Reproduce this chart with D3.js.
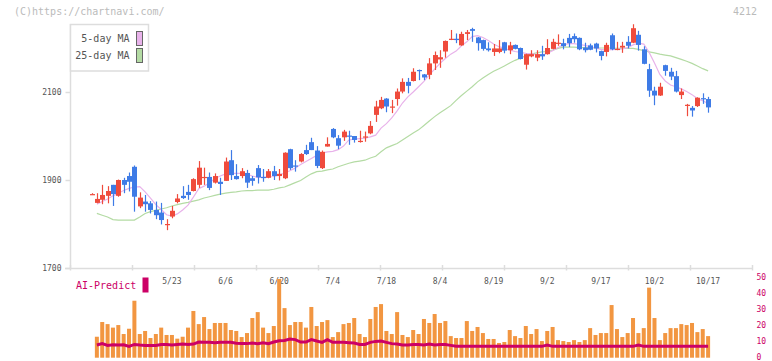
<!DOCTYPE html>
<html>
<head>
<meta charset="utf-8">
<script src="https://cdn.jsdelivr.net/npm/d3@7"></script>
<style>
html,body{margin:0;padding:0;background:#fff;}
svg{display:block;}
text{font-family:"DejaVu Sans Mono","Liberation Mono",monospace;}
</style>
</head>
<body>
<svg id="chart" width="772" height="361"></svg>
<script>
// ---- data ----
const dates = ["4/30","5/1","5/2","5/7","5/8","5/9","5/12","5/13","5/14","5/15","5/16","5/19","5/20","5/21","5/22","5/23","5/26","5/27","5/28","5/29","5/30",
"6/2","6/3","6/4","6/5","6/6","6/9","6/10","6/11","6/12","6/13","6/16","6/17","6/18","6/19","6/20","6/23","6/24","6/25","6/26","6/27","6/30",
"7/1","7/2","7/3","7/4","7/7","7/8","7/9","7/10","7/11","7/14","7/15","7/16","7/17","7/18","7/22","7/23","7/24","7/25","7/28","7/29","7/30","7/31",
"8/1","8/4","8/5","8/6","8/7","8/8","8/12","8/13","8/14","8/15","8/18","8/19","8/20","8/21","8/22","8/25","8/26","8/27","8/28","8/29",
"9/1","9/2","9/3","9/4","9/5","9/8","9/9","9/10","9/11","9/12","9/16","9/17","9/18","9/19","9/22","9/24","9/25","9/26","9/29","9/30",
"10/1","10/2","10/3","10/6","10/7","10/8","10/9","10/10","10/14","10/15","10/16","10/17"];

const open  = [1868,1848,1855,1864,1889,1864,1900,1909,1930,1840,1851,1847,1832,1826,1798,1817,1850,1864,1873,1875,1889,1906,1907,1894,1896,1898,1945,1909,1909,1916,1904,1927,1907,1905,1920,1909,1904,1970,1933,1942,1968,1986,1967,1927,1976,2016,1995,1997,2001,2000,1988,1997,2006,2048,2063,2085,2066,2084,2101,2123,2125,2150,2140,2139,2165,2174,2192,2219,2221,2206,2232,2243,2224,2218,2199,2191,2191,2213,2195,2207,2200,2162,2181,2178,2186,2186,2198,2211,2211,2223,2227,2223,2201,2206,2210,2193,2191,2229,2196,2201,2214,2212,2230,2197,2152,2103,2092,2161,2146,2136,2093,2070,2064,2068,2086,2084];
const high  = [1870,1870,1889,1886,1889,1901,1905,1917,1933,1872,1866,1852,1851,1848,1811,1841,1868,1886,1889,1904,1943,1928,1917,1915,1905,1951,1968,1936,1927,1923,1909,1934,1925,1925,1932,1925,1963,1971,1945,1961,1980,1996,1977,1967,1997,2018,2002,2014,2012,2000,2012,2010,2034,2080,2089,2086,2082,2108,2131,2132,2154,2151,2141,2177,2192,2195,2217,2241,2233,2237,2241,2246,2225,2219,2213,2209,2218,2214,2214,2208,2201,2187,2195,2195,2205,2220,2221,2231,2221,2232,2233,2224,2212,2210,2212,2194,2212,2233,2214,2214,2227,2254,2239,2204,2164,2112,2121,2162,2155,2148,2108,2073,2068,2088,2097,2089];
const low   = [1867,1847,1845,1847,1841,1862,1870,1874,1828,1836,1828,1824,1811,1799,1786,1813,1847,1857,1855,1874,1882,1889,1877,1892,1866,1898,1900,1901,1904,1882,1887,1892,1896,1904,1900,1899,1902,1923,1919,1940,1957,1968,1927,1925,1976,1995,1970,1989,1980,1985,1985,1987,2004,2032,2061,2054,2052,2069,2097,2097,2124,2127,2127,2129,2150,2155,2178,2218,2211,2205,2218,2214,2194,2194,2192,2182,2188,2188,2186,2197,2174,2151,2179,2170,2173,2185,2197,2205,2197,2202,2212,2195,2190,2195,2190,2172,2181,2195,2195,2189,2199,2211,2194,2163,2089,2070,2091,2137,2127,2099,2084,2045,2044,2066,2073,2053];
const close = [1868,1857,1866,1875,1868,1900,1889,1896,1862,1860,1845,1832,1820,1809,1800,1830,1858,1859,1866,1902,1928,1907,1882,1909,1891,1942,1911,1902,1920,1894,1898,1906,1906,1920,1909,1914,1962,1927,1932,1959,1959,1968,1932,1964,1982,1997,1978,2010,2000,1991,1989,1999,2023,2067,2082,2067,2067,2101,2123,2114,2146,2149,2133,2165,2184,2179,2216,2221,2218,2232,2236,2239,2211,2198,2195,2199,2199,2194,2206,2198,2175,2186,2186,2186,2181,2200,2214,2212,2204,2211,2220,2197,2195,2196,2199,2182,2207,2197,2198,2205,2205,2245,2207,2164,2103,2092,2112,2148,2135,2101,2101,2071,2058,2087,2085,2065];

const ma5 = [null,1845,1851,1857,1864,1870,1876,1881,1884,1885,1873,1859,1844,1833,1821,1818,1823,1832,1843,1861,1880,1886,1894,1903,1909,1914,1915,1915,1915,1913,1909,1906,1906,1907,1908,1911,1916,1921,1927,1935,1942,1949,1956,1961,1964,1965,1969,1977,1991,1993,1994,1995,1998,2002,2018,2028,2041,2057,2075,2089,2100,2112,2124,2139,2152,2165,2176,2186,2193,2205,2214,2226,2228,2224,2217,2209,2203,2199,2195,2192,2190,2188,2187,2185,2184,2188,2194,2201,2207,2210,2210,2208,2206,2203,2200,2197,2195,2196,2197,2198,2201,2207,2211,2209,2190,2166,2140,2125,2116,2112,2107,2101,2094,2085,2080,2074];
const ma25 = [null,1824,1820,1816,1810,1809,1809,1809,1809,1816,1824,1828,1831,1834,1837,1841,1844,1847,1849,1852,1855,1859,1862,1865,1868,1870,1872,1873,1875,1876,1876,1877,1877,1877,1879,1882,1884,1889,1894,1899,1907,1914,1919,1920,1923,1925,1930,1934,1938,1941,1943,1945,1950,1954,1964,1973,1978,1983,1991,1999,2007,2014,2024,2034,2044,2053,2061,2069,2081,2092,2102,2112,2123,2132,2140,2147,2153,2159,2166,2172,2177,2182,2186,2189,2191,2192,2195,2199,2202,2202,2202,2201,2201,2201,2200,2200,2200,2200,2199,2199,2199,2199,2197,2194,2191,2189,2186,2184,2182,2178,2174,2170,2165,2159,2153,2148];

const volume = [null,13.1,22.3,21,18.8,20.4,14.8,18.1,35.6,14.8,16.7,12.3,14.8,18.8,14.2,14.2,11.9,13.1,18.8,29.2,21,25.4,17.9,21.7,21.7,21.7,17.3,16.7,12.9,15.4,24.8,28.5,18.8,15.4,19.8,49.2,31,20.4,22.3,22.3,18.8,31.7,19.8,22.3,23.5,12.9,16,21,21.7,24.8,14.8,12.9,24.2,31.7,33.5,16.7,14.8,28.5,14.2,12.9,17.3,14.8,24.2,21.7,27.3,21.7,22.9,13.5,12.3,12.3,22.9,16.7,19.2,15.4,11.7,11.7,9.2,9.8,17.3,13.5,12.3,19.8,14.8,17.9,10.4,16.7,19.2,11,10.4,9.8,11,9.8,11,18.5,14.2,15.4,15.4,32.9,17.9,12.9,15.4,24.8,15.4,18.5,43.8,24.8,11,15.4,18.5,18.5,21,20.4,21.7,16,17.9,13.5];

const aiPredict = [null,7.9,8.8,7.7,8.1,7.9,8.1,7.1,8.3,7.9,7.7,7.7,7.7,8.3,8.3,7.9,8.3,8.5,8.3,8.5,9.8,9.6,9.6,9.4,9.6,9.6,9.6,9.0,8.8,8.8,9.2,8.8,9.4,8.8,9.8,10.6,10.8,11.7,11.3,9.8,9.8,11.3,10.4,9.6,11.3,9.6,9.6,9.6,9.4,9.2,8.3,8.3,9.6,10.2,10.4,9.6,8.8,8.5,7.9,7.9,8.3,8.3,7.9,8.5,7.9,8.3,8.3,7.7,7.1,7.1,7.1,7.1,7.1,7.1,7.1,7.1,7.1,7.1,7.1,7.1,7.1,7.1,7.1,7.1,7.1,7.9,7.1,7.1,7.1,7.1,7.1,7.1,7.1,7.1,7.1,7.1,7.1,7.1,7.1,7.1,7.1,7.1,7.9,7.1,7.1,7.1,7.1,7.1,7.1,7.1,7.1,7.1,7.1,7.1,7.1,7.1];

const dateTicks = ["5/23","6/6","6/20","7/4","7/18","8/4","8/19","9/2","9/17","10/2","10/17"];
const priceTicks = [1700,1900,2100];
const volumeTicks = [0,10,20,30,40,50];
const legendItems = ["5-day MA","25-day MA"];
const ticker = "4212";
const copyright = "(C)https://chartnavi.com/";

// ---- styles ----
const UP = "#ef4b3c", DOWN = "#3e7be6";
const MA5C = "#e8b2ea", MA25C = "#b4dba4";
const VOLC = "#f29641", AIC = "#cc0066";
const LABEL = "#555", FRAME = "#dddddd";

const svg = d3.select("#chart");

const x = d3.scalePoint().domain(dates).range([91.5, 708.1]);
const y = d3.scaleLinear().domain([1700, 2300]).range([268, 4]);
const yv = d3.scaleLinear().domain([0, 50]).range([357.7, 277.7]);

// frame
svg.append("line").attr("x1",70.5).attr("x2",70.5).attr("y1",24).attr("y2",268.5)
  .attr("stroke",FRAME).attr("stroke-width",1.5);
svg.append("line").attr("x1",65).attr("x2",752.5).attr("y1",268.5).attr("y2",268.5)
  .attr("stroke",FRAME).attr("stroke-width",1.5);
// bottom division ticks
svg.append("g").selectAll("line").data(d3.range(0,12)).join("line")
  .attr("x1",d=>70.5+62*d).attr("x2",d=>70.5+62*d).attr("y1",265).attr("y2",270.5)
  .attr("stroke",FRAME).attr("stroke-width",1.5);

// y axis
const yAxis = d3.axisLeft(y).tickValues(priceTicks).tickSize(5).tickPadding(4).tickFormat(d3.format("d"));
const gy = svg.append("g").attr("transform","translate(70.5,0)").call(yAxis);
gy.select(".domain").remove();
gy.selectAll(".tick line").attr("stroke",FRAME).attr("stroke-width",1.5);
gy.selectAll(".tick text").attr("fill",LABEL).style("font-size","8px").style("font-family",'"DejaVu Sans Mono",monospace');

// moving averages
const lineGen = arr => d3.line().defined(d=>d!=null).x((d,i)=>x(dates[i])).y(d=>y(d))(arr);
svg.append("path").attr("d",lineGen(ma25)).attr("fill","none").attr("stroke",MA25C).attr("stroke-width",1.2);
svg.append("path").attr("d",lineGen(ma5)).attr("fill","none").attr("stroke",MA5C).attr("stroke-width",1.2);

// candles
const candles = svg.append("g");
dates.forEach((d,i)=>{
  const cx = x(d);
  const up = close[i] >= open[i];
  const col = up ? UP : DOWN;
  const top = y(Math.max(open[i],close[i])), bot = y(Math.min(open[i],close[i]));
  candles.append("line").attr("x1",Math.round(cx)+0.5).attr("x2",Math.round(cx)+0.5)
    .attr("y1",y(high[i])).attr("y2",y(low[i])).attr("stroke",col).attr("stroke-width",1.2);
  candles.append("rect").attr("x",Math.round(cx)-2).attr("width",5)
    .attr("y",top).attr("height",Math.max(1.2,bot-top)).attr("fill",col);
});

// legend
const lg = svg.append("g");
lg.append("rect").attr("x",70.5).attr("y",24.5).attr("width",78).attr("height",46.5)
  .attr("fill","#fff").attr("stroke",FRAME).attr("stroke-width",1.5);
[MA5C, MA25C].forEach((c,k)=>{
  lg.append("text").attr("x",129.5).attr("y",39+17*k).attr("text-anchor","end")
    .attr("dominant-baseline","middle").attr("fill",LABEL).style("font-size","10px").text(legendItems[k]);
  lg.append("rect").attr("x",136.5).attr("y",31.5+17*k).attr("width",6).attr("height",14)
    .attr("fill",c).attr("stroke","#666").attr("stroke-width",1);
});

// header texts
svg.append("text").attr("x",14).attr("y",12).attr("dominant-baseline","middle")
  .attr("fill","#bbbbbb").style("font-size","10px").text(copyright);
svg.append("text").attr("x",757).attr("y",12).attr("text-anchor","end").attr("dominant-baseline","middle")
  .attr("fill","#bbbbbb").style("font-size","10px").text(ticker);

// date labels
svg.append("g").selectAll("text").data(dateTicks).join("text")
  .attr("x",d=>x(d)).attr("y",281.5).attr("text-anchor","middle").attr("dominant-baseline","middle")
  .attr("fill",LABEL).style("font-size","8px").text(d=>d);

// volume bars
svg.append("g").selectAll("rect").data(dates.map((d,i)=>({d,v:volume[i]})).filter(o=>o.v!=null)).join("rect")
  .attr("x",o=>x(o.d)-2).attr("width",4)
  .attr("y",o=>yv(o.v)).attr("height",o=>yv(0)-yv(o.v)).attr("fill",VOLC);

// AI predict line
svg.append("path").attr("d",d3.line().defined(d=>d!=null).x((d,i)=>x(dates[i])).y(d=>yv(d))(aiPredict))
  .attr("fill","none").attr("stroke",AIC).attr("stroke-width",3);

// AI legend
svg.append("text").attr("x",76).attr("y",286).attr("dominant-baseline","middle")
  .attr("fill",AIC).style("font-size","10px").text("AI-Predict");
svg.append("rect").attr("x",142.5).attr("y",277.5).attr("width",6).attr("height",15).attr("fill",AIC);

// volume axis labels
svg.append("g").selectAll("text").data(volumeTicks).join("text")
  .attr("x",756.5).attr("y",d=>yv(d)-0.5).attr("dominant-baseline","middle")
  .attr("fill",AIC).style("font-size","8px").text(d=>d);
</script>
</body>
</html>
